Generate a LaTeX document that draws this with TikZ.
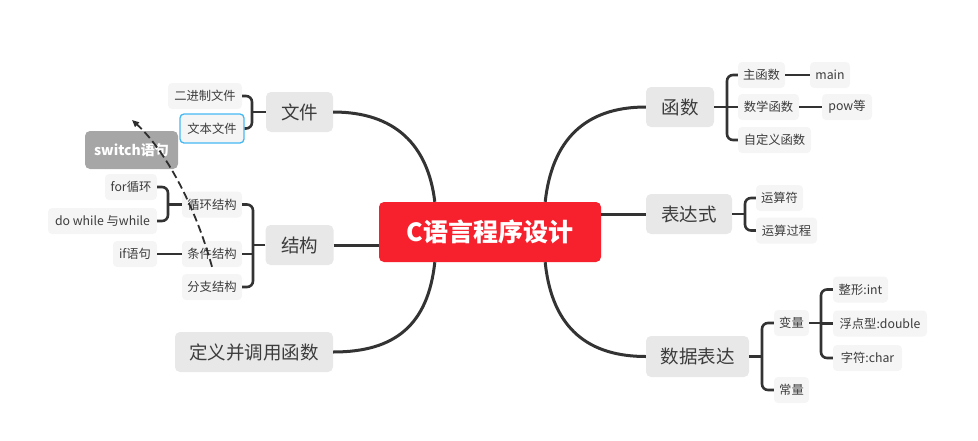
\documentclass[tikz,border=0pt]{standalone}
\usepackage{fontspec}
\setmainfont{Noto Sans CJK SC}
\usetikzlibrary{arrows.meta}
\definecolor{ln}{RGB}{51,51,51}
\definecolor{tx}{RGB}{60,60,60}
\definecolor{mfill}{RGB}{232,232,232}
\definecolor{sfill}{RGB}{245,245,245}
\definecolor{cred}{RGB}{246,33,45}
\definecolor{swfill}{RGB}{166,166,166}
\definecolor{selblue}{RGB}{69,184,242}
\begin{document}
\begin{tikzpicture}[x=1pt,y=-1pt,
  mainbox/.style={fill=mfill, rounded corners=5pt, text=tx, font=\fontsize{18.5}{20}\selectfont, minimum height=40pt, inner xsep=0pt, inner ysep=0pt},
  subbox/.style={fill=sfill, rounded corners=4pt, text=tx, font=\fontsize{12.3}{14}\selectfont, minimum height=26pt, inner xsep=0pt, inner ysep=0pt},
  trunk/.style={draw=ln, line width=3pt},
  branch/.style={draw=ln, line width=2.6pt, rounded corners=6pt},
  link/.style={draw=ln, line width=2.6pt},
  relation/.style={draw=ln!90!black, line width=1.8pt, dash pattern=on 8pt off 4pt, -{Triangle[length=7pt,width=6pt]}},
]
\useasboundingbox (0,0) rectangle (978,440);

% central
\node[fill=cred, rounded corners=5pt, text=white, font=\fontsize{25}{27}\selectfont\bfseries, minimum width=222pt, minimum height=60pt, inner sep=0pt] (ct) at (490,232) {C语言程序设计};

% main topics
\node[mainbox, minimum width=67pt] (wj) at (299.5,112) {文件};
\node[mainbox, minimum width=68pt] (jg) at (299.5,245) {结构};
\node[mainbox, minimum width=158pt] (dy) at (254,352) {定义并调用函数};
\node[mainbox, minimum width=68pt] (hs) at (680,107) {函数};
\node[mainbox, minimum width=86pt] (bds) at (689,214) {表达式};
\node[mainbox, minimum width=103pt, minimum height=41pt] (sj) at (697.5,356.5) {数据表达};

% left subtopics
\node[subbox, minimum width=74pt] (ej) at (205,96) {二进制文件};
\node[subbox, minimum width=64pt, minimum height=29pt, draw=selblue, line width=1.3pt] (wb) at (212,128.5) {文本文件};
\node[fill=swfill, rounded corners=5pt, text=white, font=\fontsize{14}{16}\selectfont\bfseries, minimum width=93pt, minimum height=38pt, inner sep=0pt] (sw) at (131.5,150) {switch语句};
\node[subbox, minimum width=60pt] (xh) at (212,204.5) {循环结构};
\node[subbox, minimum width=52pt] (for) at (131,187) {for循环};
\node[subbox, minimum width=109pt] (dw) at (102.5,221) {do while 与while};
\node[subbox, minimum width=60pt] (tj) at (212,254) {条件结构};
\node[subbox, minimum width=44pt] (if) at (135,254) {if语句};
\node[subbox, minimum width=60pt] (fz) at (212,287) {分支结构};

% right subtopics
\node[subbox, minimum width=47pt] (zhs) at (761.5,75) {主函数};
\node[subbox, minimum width=40pt] (main) at (830,75) {main};
\node[subbox, minimum width=61pt] (sx) at (768.5,107) {数学函数};
\node[subbox, minimum width=50pt] (pow) at (847,107) {pow等};
\node[subbox, minimum width=73pt] (zdy) at (774.5,140) {自定义函数};
\node[subbox, minimum width=47pt] (ysf) at (779.5,198) {运算符};
\node[subbox, minimum width=61pt] (ysg) at (786.5,230.5) {运算过程};
\node[subbox, minimum width=35pt] (bl) at (791.5,323) {变量};
\node[subbox, minimum width=35pt] (cl) at (791.5,390) {常量};
\node[subbox, minimum width=55pt] (zx) at (860.5,289.5) {整形:int};
\node[subbox, minimum width=94pt] (fd) at (880,323.5) {浮点型:double};
\node[subbox, minimum width=69pt] (zf) at (867.5,358) {字符:char};

% trunk connectors
\draw[trunk] ([xshift=56pt]ct.north west) .. controls (428,145) and (395,112) .. (wj.east);
\draw[trunk] (jg.east) -- (jg.east -| ct.west);
\draw[trunk] ([xshift=56pt]ct.south west) .. controls (428,325) and (395,352) .. (dy.east);
\draw[trunk] ([xshift=-56pt]ct.north east) .. controls (552,140) and (585,107) .. (hs.west);
\draw[trunk] (bds.west) -- (bds.west -| ct.east);
\draw[trunk] ([xshift=-56pt]ct.south east) .. controls (552,330) and (590,356.5) .. (sj.west);

% bracket junctions
\coordinate (bwj) at (252,112);
\coordinate (bjg) at (253,245);
\coordinate (bxh) at (168,204.5);
\coordinate (bhs) at (727,107);
\coordinate (bbds) at (745,214);
\coordinate (bsj) at (762,356.5);
\coordinate (bbl) at (821,323);

% left brackets
\draw[link] (wj.west) -- (bwj);
\draw[branch] (ej.east) -| (bwj) |- (wb.east);
\draw[link] (jg.west) -- (bjg);
\draw[branch] (xh.east) -| (bjg) |- (fz.east);
\draw[link] (tj.east) -- (tj.east -| bjg);
\draw[link] (xh.west) -- (bxh);
\draw[branch] (for.east) -| (bxh) |- (dw.east);
\draw[link] (tj.west) -- (if.east);

% right brackets
\draw[link] (hs.east) -- (bhs);
\draw[branch] (zhs.west) -| (bhs) |- (zdy.west);
\draw[link] (sx.west) -- (sx.west -| bhs);
\draw[link] (zhs.east) -- (main.west);
\draw[link] (sx.east) -- (pow.west);
\draw[link] (bds.east) -- (bbds);
\draw[branch] (ysf.west) -| (bbds) |- (ysg.west);
\draw[link] (sj.east) -- (bsj);
\draw[branch] (bl.west) -| (bsj) |- (cl.west);
\draw[link] (bl.east) -- (bbl);
\draw[branch] (zx.west) -| (bbl) |- (zf.west);
\draw[link] (fd.west) -- (fd.west -| bbl);

% dashed relation
\coordinate (swtip) at (132,120);
\draw[relation] ([yshift=7pt]fz.north) .. controls (195,205) and (165,150) .. (swtip);
\end{tikzpicture}
\end{document}
